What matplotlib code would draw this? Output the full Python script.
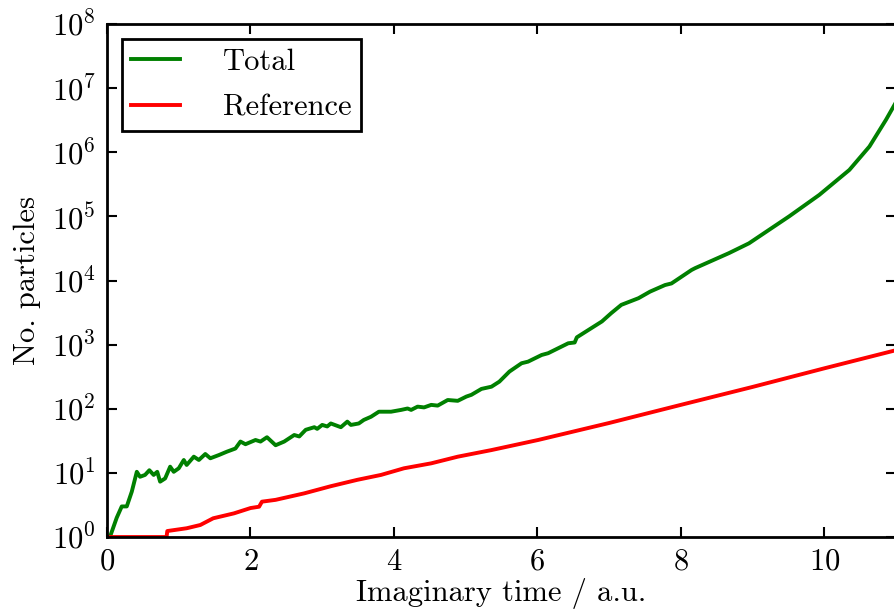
import numpy as np
import matplotlib
matplotlib.use("Agg")
import matplotlib.pyplot as plt

# imaginary-time walker populations
t_total = [0.0, 0.04, 0.135, 0.205, 0.275, 0.345, 0.415, 0.46, 0.53, 0.59, 0.65,
           0.70, 0.74, 0.81, 0.88, 0.93, 1.00, 1.07, 1.11, 1.21, 1.28, 1.37,
           1.44, 1.56, 1.67, 1.79, 1.86, 1.93, 2.07, 2.14, 2.23, 2.35, 2.47,
           2.61, 2.68, 2.77, 2.89, 2.93, 3.00, 3.07, 3.12, 3.26, 3.35, 3.40,
           3.51, 3.58, 3.68, 3.79, 3.96, 4.10, 4.19, 4.24, 4.33, 4.42, 4.52,
           4.61, 4.75, 4.89, 5.01, 5.08, 5.22, 5.36, 5.47, 5.61, 5.78, 5.87,
           6.06, 6.15, 6.43, 6.52, 6.55, 6.90, 7.03, 7.17, 7.41, 7.57, 7.78,
           7.87, 8.15, 8.20, 8.67, 8.95, 9.51, 9.93, 10.35, 10.63, 10.86, 11.02]
n_total = [1.0, 1.0, 2.0, 3.0, 3.0, 5.1, 10.4, 8.7, 9.3, 11.0, 9.3,
           10.4, 7.3, 8.2, 12.5, 10.4, 11.8, 15.9, 13.3, 17.9, 15.9, 19.7,
           16.9, 19.0, 21.4, 24.0, 30.8, 28.0, 32.6, 30.8, 36.0, 27.0, 30.8,
           39.0, 37.0, 47.0, 51.6, 48.6, 56.0, 53.0, 59.0, 51.6, 63.0, 56.0,
           59.0, 67.0, 75.0, 90.0, 90.0, 96.0, 101.0, 96.0, 108.0, 105.0, 115.0,
           112.0, 137.0, 133.0, 155.0, 165.0, 204.0, 221.0, 265.0, 380.0, 513.0, 543.0,
           690.0, 735.0, 1050.0, 1080.0, 1300.0, 2300.0, 3100.0, 4170.0, 5300.0, 6700.0, 8500.0,
           9000.0, 14600.0, 15600.0, 26700.0, 38000.0, 1.0e5, 2.16e5, 5.3e5, 1.23e6, 3.2e6, 6.6e6]

t_ref = [0.0, 0.83, 0.84, 1.11, 1.30, 1.48, 1.77, 2.00, 2.12, 2.16, 2.35,
         2.75, 3.12, 3.49, 3.82, 4.14, 4.52, 4.89, 5.36, 6.01, 7.0, 8.0,
         9.0, 10.0, 11.02]
n_ref = [1.0, 1.0, 1.24, 1.37, 1.54, 1.96, 2.34, 2.83, 2.97, 3.56, 3.8,
         4.8, 6.2, 7.8, 9.3, 11.8, 14.1, 17.9, 22.7, 32.6, 60.0, 115.0,
         219.0, 427.0, 830.0]

plt.rcParams['font.family'] = 'serif'
plt.rcParams['font.serif'] = ['cmr10']
plt.rcParams['mathtext.fontset'] = 'cm'
plt.rcParams['axes.formatter.use_mathtext'] = True
plt.rcParams['font.size'] = 22

fig = plt.figure(figsize=(8.95, 6.12), dpi=100)
ax = fig.add_axes([0.1196, 0.1225, 0.8815, 0.8383])

ax.plot(t_total, n_total, color='#008000', lw=2.8, label='Total')
ax.plot(t_ref, n_ref, color='#ff0000', lw=2.8, label='Reference')

ax.set_yscale('log')
ax.set_xlim(0, 11)
ax.set_ylim(1, 1e8)
ax.set_xticks([0, 2, 4, 6, 8, 10])
ax.set_yticks([10.0 ** k for k in range(9)])

for s in ax.spines.values():
    s.set_linewidth(2)
ax.tick_params(which='both', direction='in', top=True, right=True, width=1.5)
ax.tick_params(which='major', length=7, pad=8)
ax.tick_params(which='minor', length=3.5)

ax.set_xlabel('Imaginary time / a.u.', labelpad=2)
ax.set_ylabel('No. particles', labelpad=8)

leg = ax.legend(loc='upper left', fancybox=False, framealpha=1,
                borderaxespad=0.5, handlelength=1.6, handletextpad=1.4,
                borderpad=0.3, labelspacing=0.6)
leg.get_frame().set_edgecolor('black')
leg.get_frame().set_linewidth(2)

fig.savefig('out.png', dpi=100)
